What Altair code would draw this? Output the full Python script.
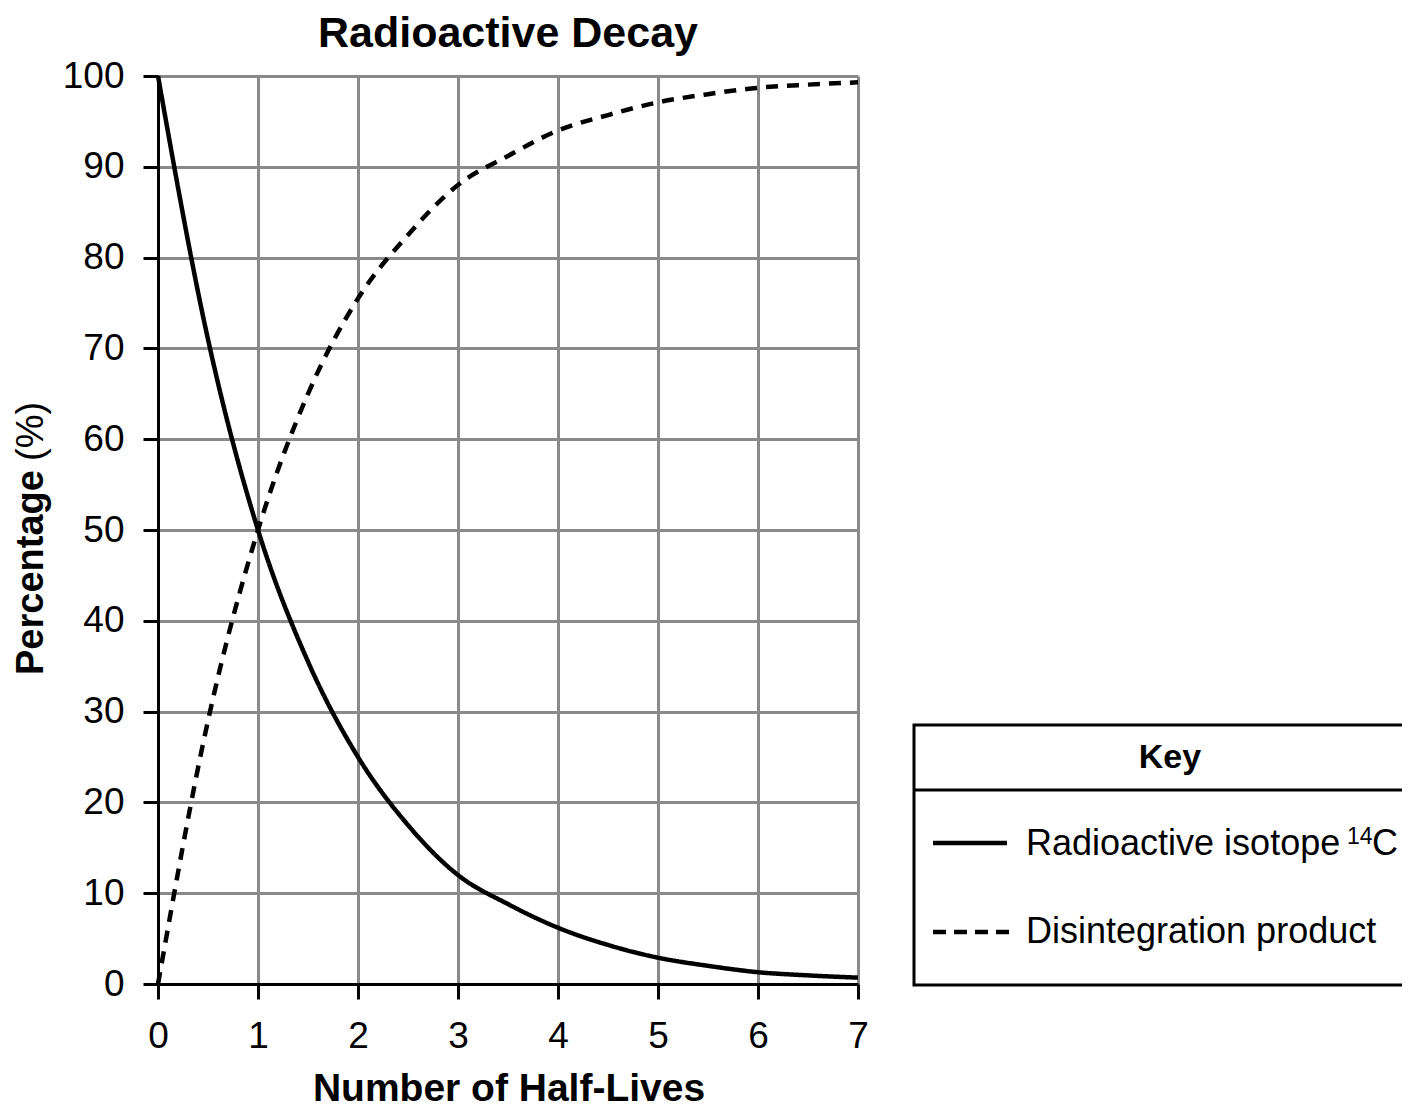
import altair as alt
import pandas as pd

# ---- data ----
half_lives = [0, 0.5, 1, 1.5, 2, 2.5, 3, 3.5, 4, 4.5, 5, 5.5, 6, 6.5, 7]
isotope_pct = [100, 71, 50, 35.5, 25, 17.5, 12, 8.8, 6.2, 4.3, 2.9, 2.0, 1.3, 0.95, 0.7]
product_pct = [0, 29, 50, 65, 75.5, 82.5, 88, 91.2, 94, 95.7, 97.1, 98, 98.7, 99.05, 99.3]
series_names = ["Radioactive isotope", "Disintegration product"]
x_ticks = [0, 1, 2, 3, 4, 5, 6, 7]
y_ticks = [0, 10, 20, 30, 40, 50, 60, 70, 80, 90, 100]

title_text = "Radioactive Decay"
x_title = "Number of Half-Lives"
y_title_bold = "Percentage"
y_title_unit = "(%)"
key_title = "Key"
key_label_1 = "Radioactive isotope"
key_sup = "14"
key_sup_after = "C"
key_label_2 = "Disintegration product"

FONT = "Liberation Sans"
W, H = 700, 908

df = pd.DataFrame({
    "t": half_lives + half_lives,
    "pct": isotope_pct + product_pct,
    "series": [series_names[0]] * len(half_lives) + [series_names[1]] * len(half_lives),
})

axis_common = dict(
    title=None, grid=True, gridColor="#8a8a8a", gridWidth=3,
    domainColor="black", domainWidth=3, tickColor="black", tickWidth=3,
    tickSize=15, labelFont=FONT, labelFontSize=37, labelColor="black",
    labelPadding=19, format="d", labelFlush=False, labelOverlap=False,
)

lines = alt.Chart(df).mark_line(
    color="black", strokeWidth=4.5, interpolate="monotone", strokeCap="butt"
).encode(
    x=alt.X("t:Q", scale=alt.Scale(domain=[0, 7], nice=False),
            axis=alt.Axis(values=x_ticks, **axis_common)),
    y=alt.Y("pct:Q", scale=alt.Scale(domain=[0, 100], nice=False),
            axis=alt.Axis(values=y_ticks, **axis_common)),
    strokeDash=alt.StrokeDash("series:N",
                              scale=alt.Scale(domain=series_names, range=[[1, 0], [12, 9]]),
                              legend=None),
    detail="series:N",
)

one = alt.Data(values=[{"k": 1}])


def txt(text, x, y, size, bold=False, align="left", angle=0):
    return alt.Chart(one).mark_text(
        text=text, font=FONT, fontSize=size,
        fontWeight="bold" if bold else "normal",
        align=align, baseline="alphabetic", angle=angle, color="black",
    ).encode(x=alt.value(x), y=alt.value(y))


title = txt(title_text, 350, -29, 43, bold=True, align="center")
xtitle = txt(x_title, 351, 1025, 39, bold=True, align="center")
ytitle1 = txt(y_title_bold, -115, 599, 38, bold=True, align="left", angle=270)
ytitle2 = txt(y_title_unit, -115, 385, 38, bold=False, align="left", angle=270)

key_box = alt.Chart(one).mark_rect(
    fill="white", stroke="black", strokeWidth=3
).encode(x=alt.value(756), x2=alt.value(1300), y=alt.value(649), y2=alt.value(909))

key_div = alt.Chart(one).mark_rule(color="black", strokeWidth=3).encode(
    x=alt.value(756), x2=alt.value(1300), y=alt.value(714))

key_solid = alt.Chart(one).mark_rule(color="black", strokeWidth=4.5).encode(
    x=alt.value(775), x2=alt.value(849), y=alt.value(767))

key_dash = alt.Chart(one).mark_rule(color="black", strokeWidth=4.5, strokeDash=[13, 8]).encode(
    x=alt.value(775), x2=alt.value(851), y=alt.value(856))

key_t = txt(key_title, 1012, 692, 34, bold=True, align="center")
key_l1 = txt(key_label_1, 868, 779, 36)
key_s = txt(key_sup, 1189, 768, 23)
key_c = txt(key_sup_after, 1214, 779, 36)
key_l2 = txt(key_label_2, 868, 867, 36)

chart = alt.layer(
    lines, title, xtitle, ytitle1, ytitle2,
    key_box, key_div, key_solid, key_dash, key_t, key_l1, key_s, key_c, key_l2,
).properties(
    width=W, height=H,
    autosize=alt.AutoSizeParams(type="none"),
    padding={"left": 150, "top": 68, "right": 544, "bottom": 126},
    background="white",
).configure_view(stroke="transparent")

chart.save("out.html", embed_options={"renderer": "svg", "actions": False})
